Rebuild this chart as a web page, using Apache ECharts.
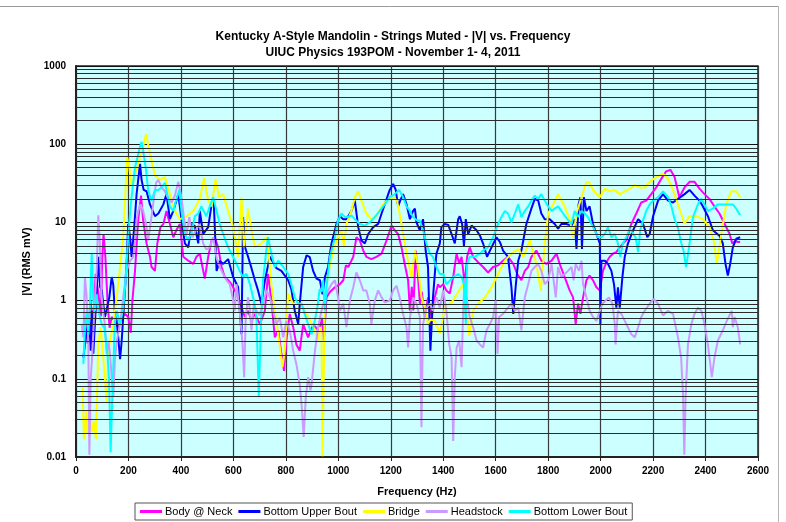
<!DOCTYPE html>
<html>
<head>
<meta charset="utf-8">
<script src="https://cdn.jsdelivr.net/npm/echarts@6/dist/echarts.min.js"></script>
<style>
  html, body { margin: 0; padding: 0; background: #fff; }
  #chart { width: 786px; height: 522px; }
</style>
</head>
<body>
<div id="chart"></div>
<script>
// Mandolin body response, strings muted: [frequency Hz, |V| mV RMS]
const bodyNeck = [[25,0.398],[35,0.63],[45,0.28],[55,1.0],[65,0.5],[75,2.2],[85,1.26],[95,0.63],[100,3.5],[105,7.1],[112,3.6],[120,1.0],[128,0.45],[136,0.617],[148,0.55],[161,0.457],[174,0.6],[187,0.676],[199,0.617],[209,0.389],[215,1.0],[225,2.4],[237,10.7],[248,22],[256,10.7],[269,5.37],[282,3.63],[288,2.69],[295,2.6],[301,2.4],[310,5.37],[322,8.7],[333,9.5],[345,14],[358,9.55],[371,6.46],[383,8],[396,9.55],[409,3.63],[428,3.24],[447,2.95],[459,3.63],[472,3.98],[491,1.91],[504,3.63],[517,5.89],[529,6.46],[542,4.79],[555,2.69],[567,2.0],[580,1.82],[593,1.62],[605,1.35],[618,1.10],[631,0.813],[644,0.617],[656,0.741],[669,0.55],[682,0.676],[701,0.501],[720,0.741],[732,2.19],[745,1.0],[758,0.339],[771,0.417],[783,0.209],[793,0.126],[802,0.309],[815,0.676],[828,0.457],[840,0.275],[853,0.229],[866,0.501],[885,0.339],[904,0.501],[923,0.417],[930,0.457],[938,0.6],[945,0.309],[955,1.10],[968,1.29],[987,1.48],[1006,1.62],[1019,1.82],[1029,2.82],[1038,2.69],[1057,3.63],[1069,6.46],[1082,5.89],[1095,4.37],[1107,3.63],[1126,3.39],[1145,3.63],[1165,3.98],[1184,5.89],[1203,9.1],[1215,7.94],[1228,7.1],[1241,4.79],[1253,2.95],[1266,1.82],[1273,0.741],[1280,1.5],[1286,0.75],[1295,4.37],[1304,2.0],[1311,0.912],[1318,1.3],[1330,0.617],[1342,1.10],[1355,0.6],[1368,1.10],[1380,1.62],[1387,1.48],[1400,1.62],[1412,1.35],[1425,1.23],[1438,2.0],[1451,3.98],[1461,2.95],[1470,3.63],[1482,1.62],[1491,3.63],[1501,4.79],[1514,3.63],[1533,3.09],[1552,2.69],[1571,2.29],[1590,2.69],[1609,2.82],[1628,3.24],[1647,3.63],[1667,2.95],[1682,2.19],[1698,1.82],[1711,2.40],[1724,2.69],[1736,3.63],[1755,4.37],[1774,3.24],[1793,2.95],[1813,3.24],[1832,3.98],[1844,2.95],[1863,2.0],[1882,1.35],[1895,1.10],[1905,0.501],[1914,0.912],[1923,0.676],[1933,1.10],[1946,1.82],[1958,2.09],[1971,1.82],[1984,1.48],[1997,1.35],[2009,2.40],[2022,3.09],[2035,3.63],[2047,3.98],[2060,4.17],[2073,4.79],[2085,5.37],[2098,5.89],[2117,9.55],[2136,13],[2155,18],[2174,19],[2193,23],[2212,28],[2231,36],[2250,45],[2266,47],[2282,38],[2300,21],[2320,28],[2339,33],[2358,33],[2377,27],[2396,23],[2415,20],[2434,16],[2453,13],[2473,9.55],[2492,7.1],[2502,5.37],[2512,5.8],[2523,5.62],[2532,5.62]];

const upperBout = [[28,0.186],[40,0.40],[50,0.60],[56,0.229],[60,0.741],[66,0.209],[72,0.50],[79,1.35],[85,3.63],[92,1.5],[98,1.35],[104,0.9],[110,0.617],[118,0.8],[127,1.10],[136,2.0],[142,1.6],[148,0.741],[155,0.55],[161,0.339],[168,0.178],[174,0.30],[180,0.617],[193,2.95],[199,9.55],[206,6.5],[212,3.63],[221,7.94],[231,23],[244,56],[250,35],[258,26],[269,25],[282,17],[301,12],[314,13],[333,17],[345,23],[358,11],[371,14],[390,23],[402,11],[415,5.4],[428,4.8],[441,9.55],[453,9],[466,5.4],[472,14],[485,7.1],[504,8.7],[517,17],[525,19],[536,2.4],[548,3.2],[561,2.95],[580,3.39],[599,2.0],[618,1.48],[631,0.372],[637,11.7],[643,5],[656,3.63],[669,2.6],[682,1.82],[694,1.35],[707,0.912],[720,1.8],[739,3.63],[751,3.1],[764,2.6],[783,2.4],[809,1.82],[821,1.4],[834,0.741],[847,0.501],[853,0.9],[866,2.69],[879,3.8],[891,3.6],[904,2.4],[917,1.91],[930,1.82],[940,1.2],[949,2.0],[961,2.69],[974,5.37],[993,9.55],[1006,12],[1019,11],[1031,11],[1050,14],[1063,19],[1076,8.7],[1088,5.89],[1101,5.37],[1114,7.1],[1133,8.7],[1152,9.55],[1165,13],[1177,17],[1196,26],[1209,31],[1219,26],[1228,16],[1236,19],[1247,23],[1260,17],[1273,11],[1285,14],[1292,15],[1298,10],[1311,7.94],[1323,11],[1333,4.37],[1342,2.69],[1351,0.229],[1361,1.10],[1374,3.98],[1387,5.4],[1393,8.7],[1406,9.55],[1419,9.3],[1432,7.1],[1444,5.4],[1457,11],[1463,12],[1472,9.55],[1479,5.0],[1486,11],[1495,7.1],[1508,9.1],[1527,7.94],[1540,6.76],[1552,5.37],[1567,3.63],[1584,4.79],[1603,6.46],[1616,5.62],[1628,4.37],[1647,3.63],[1660,1.48],[1667,0.676],[1677,1.62],[1686,3.24],[1698,4.37],[1717,9.55],[1736,15],[1749,20],[1762,19],[1774,13],[1787,11],[1806,11],[1825,9.55],[1838,8.3],[1850,9.55],[1869,9.55],[1889,9.1],[1901,11],[1908,4.57],[1916,17],[1923,21],[1929,4.57],[1936,21],[1946,14],[1958,16],[1971,9.55],[1984,7.1],[1997,5.37],[1999,0.501],[2003,3.24],[2016,3.24],[2028,2.95],[2041,2.4],[2051,1.62],[2060,0.813],[2066,1.48],[2073,0.813],[2083,2.0],[2092,3.63],[2104,5.37],[2124,7.94],[2143,11],[2162,9.55],[2178,6.46],[2187,7.1],[2200,12],[2219,19],[2238,23],[2257,19],[2276,18],[2295,20],[2320,23],[2339,26],[2358,22],[2377,19],[2390,16],[2409,12],[2428,7.94],[2453,6.76],[2466,5.37],[2476,2.95],[2485,2.09],[2494,2.95],[2504,4.79],[2517,6.17],[2532,6.46]];

const bridge = [[25,0.078],[30,0.017],[38,0.039],[43,0.020],[51,0.052],[60,0.021],[68,0.029],[76,0.017],[85,0.275],[94,0.457],[104,0.186],[117,0.050],[123,0.229],[142,0.501],[161,1.62],[180,6.46],[195,69],[203,51],[212,28],[222,38],[237,56],[256,93],[267,135],[282,76],[301,40],[320,35],[339,38],[358,23],[377,14],[396,11],[422,12],[447,14],[472,20],[488,37],[504,19],[517,16],[532,36],[545,21],[561,23],[580,14],[599,8.7],[618,3.6],[631,21],[640,4.8],[656,15],[669,8],[682,4.8],[707,5.4],[729,6.5],[745,1.6],[767,0.46],[787,0.141],[796,0.229],[809,1.23],[828,0.912],[860,0.912],[885,0.617],[910,0.417],[923,0.309],[930,0.457],[936,0.40],[940,0.0102],[949,1.10],[961,2.19],[980,4.37],[999,6.46],[1012,7.94],[1021,5.0],[1031,9.55],[1050,14],[1063,21],[1076,25],[1088,19],[1107,13],[1126,11],[1145,12],[1165,16],[1184,19],[1209,21],[1224,19],[1241,9.55],[1260,4],[1279,2],[1292,4.37],[1304,2.69],[1317,1.10],[1330,0.813],[1342,0.501],[1351,0.575],[1368,0.55],[1387,0.38],[1406,0.813],[1432,0.95],[1457,1.29],[1476,1.62],[1489,0.741],[1499,0.355],[1514,0.741],[1533,0.912],[1559,1.10],[1584,1.48],[1609,2.19],[1635,3.24],[1660,3.98],[1686,4.57],[1705,3.63],[1730,5.89],[1755,2.95],[1772,1.35],[1787,5.37],[1800,13],[1819,17],[1838,23],[1863,16],[1882,11],[1895,6.46],[1908,13],[1927,21],[1946,33],[1958,32],[1971,26],[1997,21],[2016,27],[2035,25],[2054,26],[2073,23],[2092,25],[2111,27],[2130,30],[2149,28],[2168,28],[2187,33],[2212,38],[2238,42],[2257,36],[2276,26],[2295,17],[2320,9.6],[2339,12],[2365,12],[2390,11],[2415,8.7],[2431,5.9],[2443,2.95],[2460,7.1],[2479,17],[2498,25],[2517,25],[2532,21]];

const headstock = [[22,0.5],[28,0.339],[34,2.0],[40,1.2],[47,0.275],[51,0.0107],[56,0.1],[62,0.2],[66,0.4],[72,1.0],[79,2.5],[85,12.3],[91,5.37],[97,1.2],[104,0.7],[110,0.5],[117,0.209],[124,0.3],[130,0.2],[136,0.105],[142,0.058],[148,0.170],[155,0.3],[168,0.501],[180,1.10],[193,2.40],[206,3.2],[218,3.63],[225,5.37],[231,10.7],[237,14],[246,17],[256,14],[267,9.55],[275,5.89],[284,9.55],[294,17],[305,32],[314,35],[326,28],[339,25],[352,20],[364,18],[377,22],[390,33],[396,35],[402,21],[411,11.7],[422,7.1],[432,11.7],[444,6.46],[457,7.94],[470,9.55],[485,5.37],[497,4.5],[510,4.79],[523,6.46],[536,3.5],[548,2.69],[561,2.19],[574,1.82],[586,1.62],[597,1.10],[605,0.741],[612,1.62],[624,0.741],[635,0.275],[641,0.105],[647,0.617],[656,1.10],[662,0.8],[669,0.417],[678,0.912],[688,0.741],[700,0.65],[713,0.9],[726,1.35],[739,1.10],[751,0.741],[764,0.501],[777,0.6],[790,0.339],[802,0.55],[815,0.417],[828,0.229],[840,0.155],[853,0.085],[862,0.039],[868,0.018],[876,0.058],[885,0.105],[894,0.071],[898,0.085],[911,0.229],[923,0.457],[936,0.741],[949,1.10],[961,1.35],[974,1.62],[987,1.82],[999,1.10],[1006,0.741],[1019,0.912],[1031,0.457],[1044,1.0],[1057,1.48],[1069,2.29],[1082,1.82],[1095,1.35],[1107,1.35],[1120,0.912],[1126,0.501],[1139,1.0],[1152,1.35],[1165,1.10],[1177,0.95],[1196,1.0],[1209,1.35],[1222,1.55],[1234,1.10],[1247,0.676],[1260,0.457],[1266,0.251],[1273,0.6],[1285,1.10],[1298,0.912],[1311,0.617],[1317,0.024],[1323,0.501],[1336,0.813],[1349,0.912],[1361,0.741],[1374,1.10],[1387,0.813],[1400,1.35],[1412,0.741],[1423,0.275],[1432,0.186],[1438,0.016],[1444,0.105],[1451,0.25],[1461,0.309],[1470,0.141],[1476,0.741],[1482,2.0],[1489,1.10],[1501,0.617],[1514,0.457],[1527,0.309],[1540,0.275],[1552,0.251],[1565,0.417],[1578,0.501],[1590,0.617],[1600,1.0],[1607,0.209],[1613,0.617],[1628,0.676],[1647,0.813],[1660,0.912],[1673,0.741],[1686,0.813],[1698,0.417],[1711,1.10],[1724,1.62],[1736,2.40],[1749,2.69],[1762,2.95],[1774,2.40],[1787,1.62],[1800,1.82],[1813,2.95],[1821,1.8],[1829,1.10],[1838,2.69],[1850,2.0],[1863,2.19],[1876,2.40],[1889,2.69],[1897,1.82],[1905,2.95],[1918,2.40],[1927,3.24],[1933,1.62],[1946,1.10],[1958,0.741],[1971,0.617],[1984,0.550],[1997,0.741],[2007,0.912],[2019,1.0],[2032,1.10],[2045,0.912],[2054,0.501],[2057,0.275],[2066,0.741],[2079,0.676],[2092,0.55],[2104,0.457],[2117,0.372],[2130,0.339],[2143,0.457],[2155,0.617],[2168,0.741],[2187,0.912],[2202,1.05],[2219,0.912],[2238,0.646],[2257,0.741],[2276,0.676],[2295,0.339],[2307,0.186],[2314,0.063],[2319,0.0107],[2324,0.06],[2333,0.275],[2346,0.501],[2358,0.676],[2371,0.813],[2384,0.741],[2396,0.501],[2409,0.275],[2418,0.155],[2424,0.105],[2434,0.186],[2447,0.309],[2466,0.417],[2481,0.55],[2494,0.676],[2500,0.741],[2504,0.457],[2511,0.617],[2523,0.457],[2532,0.275]];

const lowerBout = [[28,0.155],[35,0.5],[41,0.741],[47,0.37],[53,0.8],[60,3.98],[66,1.0],[72,0.741],[79,1.2],[85,0.741],[98,0.501],[108,0.45],[119,0.229],[126,0.1],[132,0.0115],[140,0.085],[148,0.501],[155,0.741],[168,0.501],[180,0.8],[187,1.48],[199,6.46],[208,16],[216,28],[225,51],[235,69],[244,93],[250,107],[256,83],[267,47],[275,26],[288,19],[301,26],[314,26],[326,28],[339,32],[348,23],[358,16],[371,14],[383,20],[394,26],[402,14],[415,7.1],[428,5.89],[441,7.5],[453,12],[466,13],[478,16],[497,12],[510,16],[523,21],[536,14],[548,9.55],[561,7.1],[574,5.37],[586,4.37],[599,3.63],[612,2.95],[624,2.40],[637,2.0],[650,2.2],[663,1.62],[678,1.0],[688,0.617],[697,0.058],[705,0.501],[713,1.82],[724,3.98],[732,6.46],[745,3.98],[758,2.69],[771,3.24],[790,2.69],[809,2.19],[821,1.62],[834,1.10],[847,0.912],[860,0.912],[872,0.676],[885,0.501],[898,0.372],[910,0.55],[920,0.813],[929,1.4],[936,1.3],[942,1.82],[949,0.741],[955,1.5],[968,3.63],[987,6.46],[999,10.7],[1012,13],[1025,11.7],[1038,11.7],[1050,12.3],[1063,11],[1082,9.55],[1101,9.1],[1120,10],[1139,11.7],[1158,14],[1177,17],[1196,21],[1215,23],[1232,26],[1247,21],[1260,16],[1273,14],[1285,11.7],[1298,10.7],[1311,10.5],[1323,7.94],[1336,5.37],[1349,3.98],[1361,3.63],[1374,2.69],[1387,2.19],[1400,2.19],[1412,1.62],[1425,1.8],[1438,2.0],[1457,2.19],[1470,2.0],[1479,1.6],[1486,0.501],[1491,2.95],[1501,3.63],[1520,3.63],[1540,3.98],[1552,4.37],[1571,4.79],[1590,6.46],[1609,9.55],[1622,11.7],[1635,14],[1647,13],[1660,10],[1673,13],[1686,17],[1698,11.7],[1711,14],[1724,16],[1736,19],[1749,22],[1762,20],[1774,23],[1787,19],[1800,16],[1813,14],[1825,15],[1838,16],[1857,13],[1876,10.7],[1889,9.55],[1901,14],[1914,11.7],[1927,14],[1939,13],[1952,11.7],[1965,9.55],[1977,7.94],[1990,6.46],[2003,6.46],[2016,7.1],[2028,8.7],[2041,6.46],[2054,7.1],[2066,5.37],[2075,3.63],[2085,5.37],[2098,6.46],[2111,8.3],[2124,7.1],[2133,6.5],[2143,4.17],[2151,7.94],[2162,10.7],[2174,14],[2187,17],[2200,19],[2219,21],[2238,25],[2257,21],[2270,16],[2282,11],[2295,8.5],[2307,5.5],[2316,4.37],[2326,2.69],[2337,4.79],[2352,11.7],[2371,17],[2384,20],[2396,17],[2409,14],[2428,15],[2447,17],[2466,17],[2485,17],[2504,17],[2517,15],[2532,12.3]];

const seriesNames = ['Body @ Neck', 'Bottom Upper Bout', 'Bridge', 'Headstock', 'Bottom Lower Bout'];
const seriesData = [bodyNeck, upperBout, bridge, headstock, lowerBout];
const seriesColors = ['#FF00FF', '#0000FF', '#FFFF00', '#CC99FF', '#00FFFF'];

// Axis ticks
const yTickLabels = ['0.01', '0.1', '1', '10', '100', '1000'];
const xMin = 0, xMax = 2600, xStep = 200;

// Intermediate log-scale gridlines (2..9 within each decade)
const minorGridValues = [];
for (let d = -2; d <= 2; d++) {
  for (let k = 2; k <= 9; k++) minorGridValues.push(k * Math.pow(10, d));
}

const FONT = 'Liberation Sans, Arial, Helvetica, sans-serif';
const chart = echarts.init(document.getElementById('chart'), null, { renderer: 'canvas' });

const series = [{
  name: 'minor-grid',
  type: 'line',
  data: [],
  silent: true,
  z: 1,
  markLine: {
    silent: true,
    symbol: 'none',
    animation: false,
    label: { show: false },
    lineStyle: { color: '#2b2b2b', width: 1, type: 'solid' },
    emphasis: { disabled: true },
    data: minorGridValues.map(v => ({ yAxis: v }))
  }
}];
seriesNames.forEach((name, i) => {
  series.push({
    name: name,
    type: 'line',
    data: seriesData[i],
    showSymbol: false,
    symbol: 'none',
    z: 3,
    lineStyle: { color: seriesColors[i], width: 2 },
    itemStyle: { color: seriesColors[i] },
    emphasis: { disabled: true }
  });
});

chart.setOption({
  animation: false,
  backgroundColor: '#ffffff',
  textStyle: { fontFamily: FONT },
  title: {
    text: 'Kentucky A-Style Mandolin - Strings Muted - |V| vs. Frequency\nUIUC Physics 193POM - November 1- 4, 2011',
    left: 'center',
    top: 24,
    textStyle: { fontFamily: FONT, fontSize: 12, fontWeight: 'bold', lineHeight: 16, color: '#000' }
  },
  legend: {
    data: seriesNames,
    left: 135,
    top: 503,
    orient: 'horizontal',
    icon: 'rect',
    itemWidth: 22,
    itemHeight: 3,
    itemGap: 6,
    padding: [3, 5, 3, 5],
    borderColor: '#555',
    borderWidth: 1,
    backgroundColor: '#ffffff',
    textStyle: { fontFamily: FONT, fontSize: 11, color: '#000', padding: [0, 0, 0, -2] }
  },
  grid: {
    left: 76, right: 28, top: 66, bottom: 65,
    show: true,
    backgroundColor: '#CCFFFF',
    borderColor: '#222',
    borderWidth: 1.5
  },
  xAxis: {
    type: 'value',
    min: xMin, max: xMax, interval: xStep,
    name: 'Frequency (Hz)',
    nameLocation: 'middle',
    nameGap: 29,
    nameTextStyle: { fontFamily: FONT, fontSize: 11, fontWeight: 'bold', color: '#000' },
    axisLine: { show: true, lineStyle: { color: '#222', width: 2 } },
    axisTick: { show: true, length: 4, lineStyle: { color: '#222' } },
    axisLabel: {
      fontFamily: FONT, fontSize: 10, fontWeight: 'bold', color: '#000', margin: 9,
      formatter: v => String(v)
    },
    splitLine: { show: true, lineStyle: { color: '#3a3a3a', width: 1.2 } }
  },
  yAxis: {
    type: 'log',
    logBase: 10,
    min: 0.01, max: 1000,
    name: '|V| (RMS mV)',
    nameLocation: 'middle',
    nameGap: 37,
    nameRotate: 90,
    nameTextStyle: { fontFamily: FONT, fontSize: 11, fontWeight: 'bold', color: '#000' },
    axisLine: { show: true, lineStyle: { color: '#222', width: 2 } },
    axisTick: { show: false },
    axisLabel: {
      fontFamily: FONT, fontSize: 10, fontWeight: 'bold', color: '#000', margin: 10,
      formatter: v => yTickLabels[Math.round(Math.log10(v)) + 2]
    },
    splitLine: { show: true, lineStyle: { color: '#111', width: 1 } }
  },
  graphic: [
    { type: 'line', shape: { x1: 0, y1: 6.5, x2: 779, y2: 6.5 }, style: { stroke: '#9a9a9a', lineWidth: 1 }, silent: true },
    { type: 'line', shape: { x1: 778.5, y1: 6, x2: 778.5, y2: 522 }, style: { stroke: '#b5b5b5', lineWidth: 1 }, silent: true }
  ],
  series: series
});
</script>
</body>
</html>
